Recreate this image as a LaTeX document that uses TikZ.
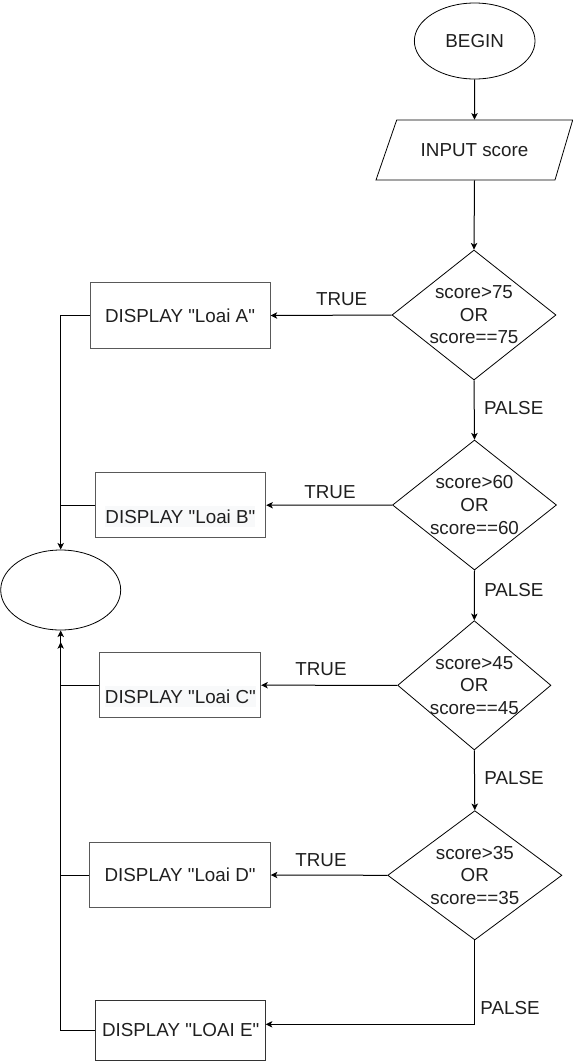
\documentclass[tikz,border=0pt]{standalone}
\usepackage{fontspec}
\setmainfont{Liberation Sans}[Ligatures=TeXOff]
\usetikzlibrary{shapes.geometric,arrows.meta}
\definecolor{hl}{HTML}{F8F9FA}
\begin{document}
\begin{tikzpicture}[x=0.75pt,y=-0.75pt,
  every node/.style={font=\fontsize{14.1pt}{16.9pt}\selectfont, text=black!88},
  box/.style={draw=black!65, line width=0.75pt, inner sep=0pt},
  dia/.style={draw=black, line width=0.6pt, shape=diamond, inner sep=0pt},
  oval/.style={draw=black, line width=0.6pt, shape=ellipse, inner sep=0pt},
  txt/.style={align=center, inner sep=0pt},
  lab/.style={inner sep=0pt},
  conn/.style={draw=black, line width=0.75pt},
  arr/.style={conn, -{Stealth[length=5pt,width=4.8pt,inset=1.3pt]}}
]
\useasboundingbox (0,0) rectangle (573,1061);

% start / end ovals
\node[oval, minimum width=90.5pt, minimum height=57pt] (begin) at (474.7,41) {BEGIN};
\node[oval, minimum width=90pt, minimum height=60pt] (end) at (60.7,590) {};

% input parallelogram
\node[txt, minimum width=147.5pt, minimum height=45pt] (inp) at (474.5,150) {INPUT score};
\draw[line width=0.6pt] (396.7,120) -- (572.7,120) -- (555,180) -- (376,180) -- cycle;

% decisions
\node[dia, minimum width=123pt, minimum height=97.5pt] (d1) at (474,315) {};
\node[txt] at (d1) {score>75\\OR\\score==75};
\node[dia, minimum width=123pt, minimum height=97.5pt] (d2) at (474.5,505) {};
\node[txt] at (d2) {score>60\\OR\\score==60};
\node[dia, minimum width=115pt, minimum height=97pt] (d3) at (474.3,685.3) {};
\node[txt] at (d3) {score>45\\OR\\score==45};
\node[dia, minimum width=130.7pt, minimum height=97pt] (d4) at (474.8,875.3) {};
\node[txt] at (d4) {score>35\\OR\\score==35};

% display boxes
\node[box, minimum width=135pt, minimum height=49.2pt] (A) at (180,315.5) {DISPLAY "Loai A"};
\node[box, minimum width=127.5pt, minimum height=48.75pt] (B) at (180.7,505.2) {};
\node[txt, fill=hl, inner ysep=2.5pt] (Bt) at (180.4,516.7) {DISPLAY "Loai B"};
\node[box, minimum width=120.5pt, minimum height=48.75pt] (C) at (180.3,685.2) {};
\node[txt, fill=hl, inner ysep=2.5pt] (Ct) at (180.4,696.7) {DISPLAY "Loai C"};
\node[box, minimum width=135.2pt, minimum height=48.5pt] (D) at (180.1,875) {DISPLAY "Loai D"};
\node[box, draw=black!80, minimum width=127.5pt, minimum height=45pt] (E) at (180.7,1030) {DISPLAY "LOAI E"};

\coordinate (eIn) at (265.7,1024.3);
\coordinate (eUp) at (60.7,642);

% main flow
\draw[arr] (begin.south) -- (inp.north);
\draw[arr] (inp.south) -- (d1.north);
\draw[arr] (d1.south) -- node[lab, right=7pt, pos=0.47] {PALSE} (d2.north);
\draw[arr] (d2.south) -- node[lab, right=7pt, pos=0.4] {PALSE} (d3.north);
\draw[arr] (d3.south) -- node[lab, right=7pt, pos=0.47] {PALSE} (d4.north);
\draw[arr] (d4.south) |- (eIn);
\node[lab] (p4) at (510,1008) {PALSE};

% true branches
\draw[arr] (d1.west) -- (A.east);
\node[lab] (t1) at (341.7,299) {TRUE};
\draw[arr] (d2.west) -- (B.east);
\node[lab] (t2) at (330,492) {TRUE};
\draw[arr] (d3.west) -- (C.east);
\node[lab] (t3) at (321,669) {TRUE};
\draw[arr] (d4.west) -- (D.east);
\node[lab] (t4) at (321,860) {TRUE};

% back to end
\draw[arr] (A.west) -| (end.north);
\draw[conn] (B.west) -- (B.west -| end.north);
\draw[arr] (C.west) -| (end.south);
\draw[conn] (D.west) -- (D.west -| end.south);
\draw[arr] (E.west) -| (eUp);
\end{tikzpicture}
\end{document}
